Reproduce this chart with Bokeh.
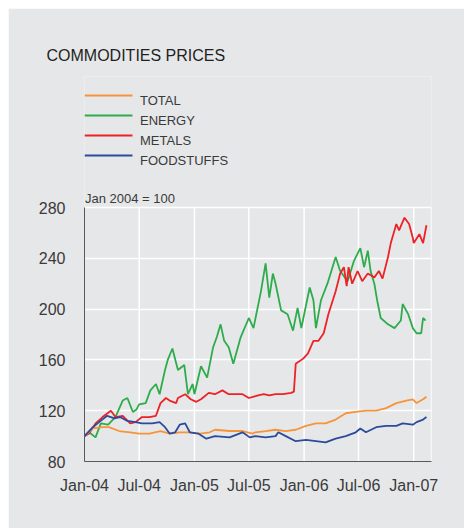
import calendar
from datetime import datetime, timedelta

from bokeh.plotting import figure
from bokeh.models import Range1d, FixedTicker, DatetimeTickFormatter
from bokeh.embed import file_html
from bokeh.resources import INLINE
from bokeh.core.properties import value

# ---------------- data (months since 1 Jan 2004; index Jan 2004 = 100) ----------------
series_names = ["TOTAL", "ENERGY", "METALS", "FOODSTUFFS"]
series_colors = ["#f7943a", "#2eac4b", "#ec2227", "#2d4b9b"]

total_m = [0, 0.9, 2.0, 2.7, 3.8, 5.0, 6.0, 7.1, 8.3, 9.3, 10.4, 11.5, 12.6, 13.7, 14.3,
           15.9, 17.3, 18.4, 18.7, 19.8, 20.9, 22.0, 23.1, 24.2, 25.3, 26.4, 27.5, 28.6,
           29.7, 30.8, 31.9, 33.0, 34.1, 35.2, 35.9, 36.3, 37.0, 37.4]
total_v = [100, 106, 107, 107, 104, 103, 102, 102, 104, 102, 103, 103, 102, 103, 105,
           104, 104, 102, 103, 104, 105, 104, 105, 108, 110, 110, 113, 118,
           119, 120, 120, 122, 126, 128, 129, 126, 129, 131]

energy_m = [0, 0.5, 1.2, 1.8, 2.6, 3.4, 4.2, 4.7, 5.3, 5.7, 6.0, 6.7, 7.2, 7.8, 8.2,
            8.8, 9.1, 9.6, 10.2, 10.9, 11.3, 11.8, 12.0, 12.7, 13.4, 14.1, 14.5, 14.9,
            15.3, 15.8, 16.3, 17.1, 18.0, 18.5, 19.3, 19.8, 20.2, 20.6, 20.9, 21.5,
            22.2, 22.8, 23.3, 23.7, 24.6, 25.0, 25.3, 25.9, 26.6, 27.5, 28.0, 28.8,
            29.5, 30.2, 30.6, 31.0, 31.3, 31.7, 32.0, 32.4, 33.2, 33.9, 34.6, 34.8,
            35.4, 35.9, 36.3, 36.8, 37.0, 37.3]
energy_v = [100, 103, 99, 110, 109, 115, 128, 130, 119, 121, 125, 126, 136, 141, 133,
            152, 160, 169, 152, 156, 133, 141, 133, 155, 146, 170, 178, 188,
            175, 170, 157, 178, 193, 185, 214, 236, 209, 228, 220, 199,
            196, 183, 201, 185, 217, 207, 185, 207, 220, 241, 230, 222,
            238, 248, 233, 246, 230, 220, 207, 193, 188, 185, 191, 204,
            196, 185, 181, 181, 193, 191]

metals_m = [0, 0.5, 1.2, 2.0, 2.9, 3.4, 4.2, 5.0, 5.6, 6.3, 7.1, 7.8, 8.3, 8.9, 9.3,
            10.0, 10.2, 11.0, 11.6, 12.2, 12.7, 13.6, 14.3, 15.1, 15.8, 16.7, 17.3,
            18.0, 19.0, 19.6, 20.2, 20.9, 21.7, 22.6, 22.9, 23.1, 23.9, 24.4, 25.0,
            25.6, 26.2, 26.7, 27.5, 28.0, 28.4, 28.7, 28.9, 29.3, 29.9, 30.4, 31.0,
            31.7, 32.2, 32.6, 33.2, 33.5, 34.1, 34.4, 35.0, 35.5, 35.9, 36.0, 36.6,
            37.0, 37.4]
metals_v = [100, 102, 110, 115, 120, 115, 116, 110, 111, 115, 115, 116, 126, 130, 128,
            126, 130, 133, 129, 127, 129, 134, 133, 136, 133, 133, 133,
            130, 132, 133, 132, 133, 133, 134, 135, 157, 161, 165, 175,
            175, 181, 196, 214, 228, 233, 218, 233, 220, 230, 222, 228,
            225, 230, 224, 241, 252, 267, 262, 272, 267, 256, 252, 259,
            252, 266]

food_m = [0, 0.9, 1.6, 2.5, 3.3, 3.9, 4.7, 5.6, 6.3, 7.4, 8.2, 8.8, 9.3, 9.9, 10.4,
          11.0, 11.5, 12.4, 13.3, 14.3, 15.9, 17.3, 18.1, 18.7, 19.8, 20.9, 21.2,
          22.0, 23.1, 24.2, 25.3, 26.4, 27.5, 28.6, 29.7, 30.2, 30.8, 31.9, 33.0,
          34.1, 34.8, 35.9, 36.3, 37.0, 37.4]
food_v = [100, 107, 111, 116, 114, 115, 112, 111, 110, 110, 111, 107, 102, 103, 109,
          110, 103, 102, 98, 100, 99, 103, 99, 100, 99, 100, 103,
          100, 96, 97, 96, 95, 98, 100, 103, 106, 103, 107, 108,
          108, 110, 109, 111, 113, 115]

tick_months = [0, 6, 12, 18, 24, 30, 36]      # Jan-04 ... Jan-07
y_ticks = [80, 120, 160, 200, 240, 280]
y_min, y_max = 80, 280
x_end_month = 38
unit_note = "Jan 2004 = 100"
title_text = "COMMODITIES PRICES"


def to_date(m):
    mi = int(m)
    frac = m - mi
    y = 2004 + mi // 12
    mo = mi % 12 + 1
    dim = calendar.monthrange(y, mo)[1]
    return datetime(y, mo, 1) + timedelta(days=frac * dim)


def to_ms(d):
    return (d - datetime(1970, 1, 1)).total_seconds() * 1000.0


# ---------------- layout (figure pixels) ----------------
BG = "#e6e7e9"
FONT = "Liberation Sans"
TXT = "#3a3a3a"
FR_L, FR_T, FR_W, FR_H = 76, 68, 347, 385          # frame extends above the plot box
PLOT_H = 254                                        # height of the 80..280 box
px_per_unit = PLOT_H / (y_max - y_min)
y_top = y_min + FR_H / px_per_unit                  # data value at frame top

x0 = to_ms(to_date(0))
x1 = to_ms(to_date(x_end_month))
ms_per_px = (x1 - x0) / FR_W


def fx(px):   # figure px -> data x
    return x0 + (px - FR_L) * ms_per_px


def fy(py):   # figure px -> data y
    return y_min + (FR_T + FR_H - py) / px_per_unit


p = figure(frame_width=FR_W, frame_height=FR_H, x_axis_type="datetime",
           x_range=Range1d(x0, x1), y_range=Range1d(y_min, y_top),
           output_backend="svg", toolbar_location=None,
           min_border_left=FR_L, min_border_right=33,
           min_border_top=FR_T, min_border_bottom=67,
           margin=(8, 0, 0, 8))
p.background_fill_color = BG
p.border_fill_color = BG
p.outline_line_color = None

# title
p.title.text = title_text
p.title.align = "left"
p.title.offset = -38
p.title.text_font = FONT
p.title.text_font_size = "16px"
p.title.text_font_style = "normal"
p.title.text_color = "#231f20"
p.title.standoff = 26

# axes
p.xaxis.ticker = FixedTicker(ticks=[to_ms(to_date(m)) for m in tick_months])
fmt = "%b-%y"
p.xaxis.formatter = DatetimeTickFormatter(
    microseconds=fmt, milliseconds=fmt, seconds=fmt, minsec=fmt, minutes=fmt,
    hourmin=fmt, hours=fmt, days=fmt, months=fmt, years=fmt)
p.yaxis.ticker = FixedTicker(ticks=y_ticks)
p.yaxis.bounds = (y_min, y_max)
for ax in (p.xaxis, p.yaxis):
    ax.axis_line_color = "#58595b"
    ax.axis_line_width = 1
    ax.major_tick_line_color = None
    ax.minor_tick_line_color = None
    ax.major_label_text_font = FONT
    ax.major_label_text_font_size = "16px"
    ax.major_label_text_color = TXT
p.xaxis.major_label_standoff = 9
p.yaxis.major_label_standoff = 13

# grid: horizontal via the y grid; vertical lines limited to the plot box
p.ygrid.grid_line_color = "white"
p.ygrid.grid_line_width = 1.5
p.xgrid.visible = False
vx = [to_ms(to_date(m)) for m in tick_months[1:]] + [x1]
p.segment(x0=vx, y0=[y_min] * len(vx), x1=vx, y1=[y_max] * len(vx),
          line_color="white", line_width=1.5)

# series
series = {
    "ENERGY": (energy_m, energy_v),
    "METALS": (metals_m, metals_v),
    "TOTAL": (total_m, total_v),
    "FOODSTUFFS": (food_m, food_v),
}
color_of = dict(zip(series_names, series_colors))
for name in ["ENERGY", "METALS", "TOTAL", "FOODSTUFFS"]:
    ms, vs = series[name]
    p.line([to_ms(to_date(m)) for m in ms], vs, line_color=color_of[name], line_width=1.8)

# legend (drawn in the area above the plot box)
leg_py = [87 + 20 * i for i in range(len(series_names))]
p.segment(x0=[fx(76)] * 4, y0=[fy(v) for v in leg_py],
          x1=[fx(124)] * 4, y1=[fy(v) for v in leg_py],
          line_color=series_colors, line_width=1.8)
p.text(x=[fx(131.5)] * 4, y=[fy(v + 4.5) for v in leg_py], text=series_names,
       text_font=value(FONT), text_font_size="13px", text_color=TXT,
       text_baseline="alphabetic")

# unit note
p.text(x=[fx(76.5)], y=[fy(190)], text=[unit_note], text_font=value(FONT),
       text_font_size="13px", text_color=TXT, text_baseline="alphabetic")

open("out.html", "w").write(file_html(p, INLINE))
